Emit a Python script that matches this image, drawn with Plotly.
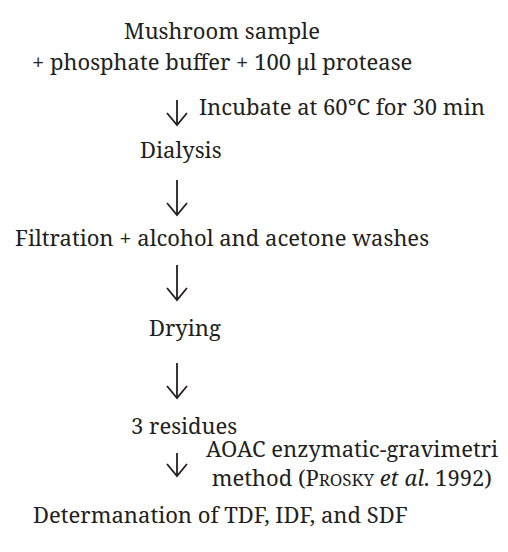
import plotly.graph_objects as go

# ---- content ----
step_labels = [
    "Mushroom sample",
    "+ phosphate buffer + 100 μl protease",
    "Dialysis",
    "Filtration + alcohol and acetone washes",
    "Drying",
    "3 residues",
    "Determanation of TDF, IDF, and SDF",
]
arrow_notes = [
    "Incubate at 60°C for 30 min",
    "",
    "",
    "",
    "AOAC enzymatic-gravimetri<br>&nbsp;method (P<span style='font-size:17px'>ROSKY</span> <i>et al</i>. 1992)",
]

# ---- layout (pixel coordinates) ----
step_x = [222, 222, 181, 222, 185, 184, 220]
step_y = [30, 61, 149, 237, 327, 425, 514]
arrow_x = 177
arrow_top = [100, 180, 265, 363, 453]
arrow_tip = [125, 215, 300, 398, 476]
note_x = [197, None, None, None, 204]
note_y = [106, None, None, None, 462]

INK = "#231f20"
FONT = dict(family="Noto Serif, Liberation Serif, serif", size=22, color=INK)

fig = go.Figure()

for top, tip in zip(arrow_top, arrow_tip):
    fig.add_trace(go.Scatter(
        x=[arrow_x, arrow_x, None, arrow_x - 10, arrow_x, arrow_x + 10],
        y=[top, tip, None, tip - 12, tip, tip - 12],
        mode="lines", line=dict(color=INK, width=1.8),
        hoverinfo="skip", showlegend=False,
    ))

annotations = []
for lab, x, y in zip(step_labels, step_x, step_y):
    annotations.append(dict(x=x, y=y, text=lab, showarrow=False,
                            xanchor="center", yanchor="middle", font=FONT))
for t, x, y in zip(arrow_notes, note_x, note_y):
    if t:
        annotations.append(dict(x=x, y=y, text=t, showarrow=False, align="left",
                                xanchor="left", yanchor="middle", font=FONT))

fig.update_layout(
    width=508, height=552,
    margin=dict(l=0, r=0, t=0, b=0),
    paper_bgcolor="white", plot_bgcolor="white",
    xaxis=dict(range=[0, 508], visible=False, fixedrange=True),
    yaxis=dict(range=[552, 0], visible=False, fixedrange=True),
    annotations=annotations,
    showlegend=False,
)

fig.write_html("out.html", config={"displayModeBar": False},
               post_script="document.body.style.margin='0';")
